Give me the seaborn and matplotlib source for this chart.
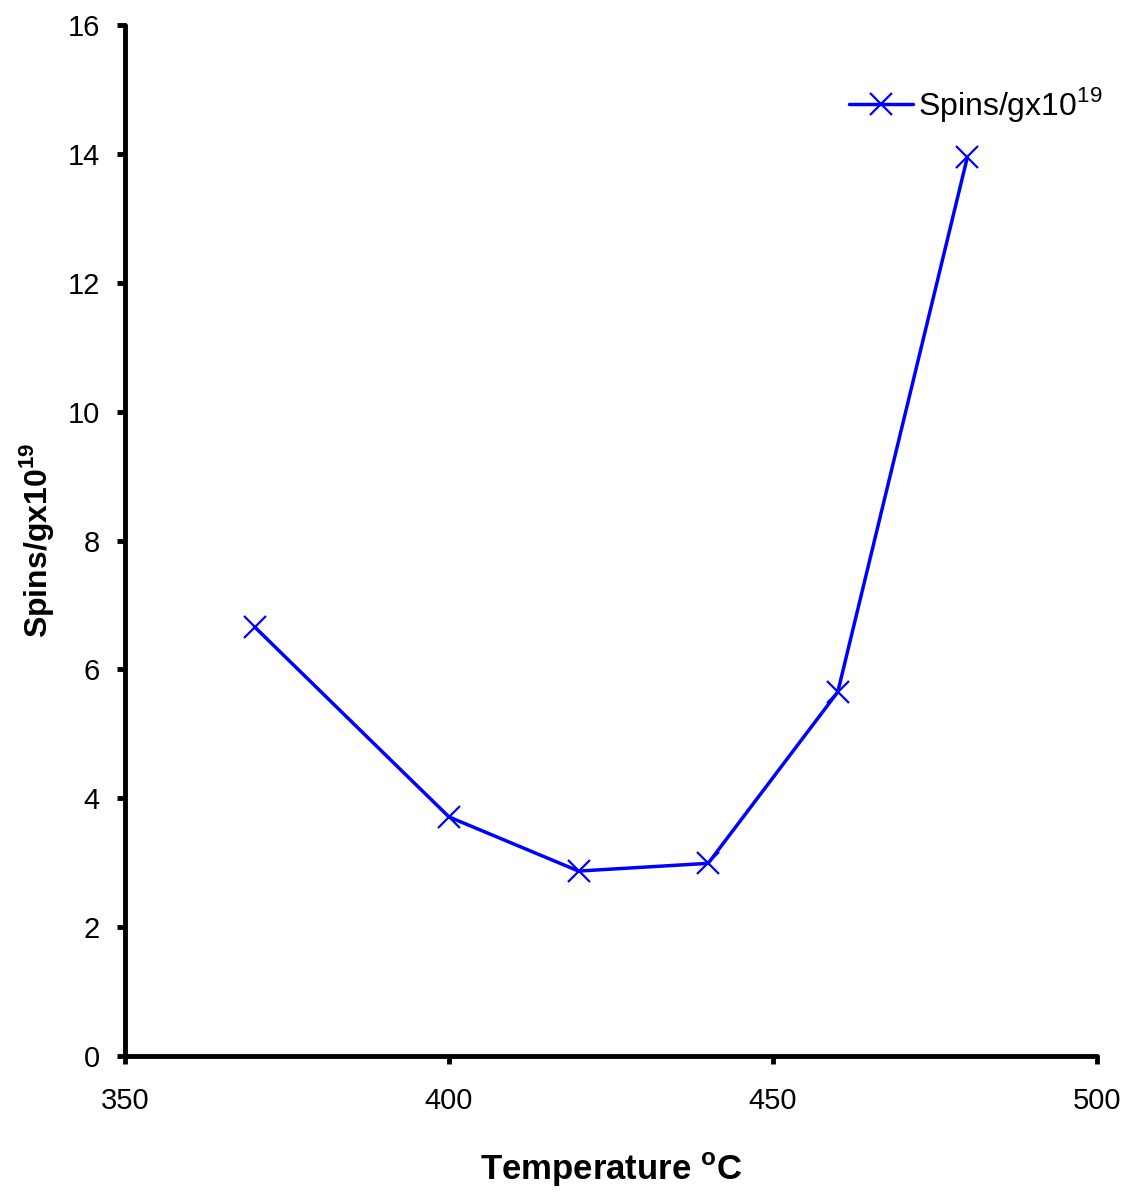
import matplotlib
matplotlib.use("Agg")
import matplotlib.pyplot as plt
import seaborn as sns
import pandas as pd

temperature = [370, 400, 420, 440, 460, 480]
spins = [6.66, 3.71, 2.87, 2.99, 5.65, 13.95]
series_label = r"Spins/gx10$^{\mathregular{19}}$"

sns.set_theme(style="ticks")
plt.rcParams['font.family'] = ['Liberation Sans', 'DejaVu Sans']
plt.rcParams['mathtext.fontset'] = 'custom'
plt.rcParams['mathtext.rm'] = 'Liberation Sans'
plt.rcParams['mathtext.bf'] = 'Liberation Sans:bold'
plt.rcParams['text.color'] = 'black'
plt.rcParams['axes.labelcolor'] = 'black'

df = pd.DataFrame({"Temperature": temperature, "Spins": spins})

fig = plt.figure(figsize=(11.33, 11.92), dpi=100)
ax = fig.add_axes([0.1103, 0.1141, 0.8579, 0.8649])

sns.lineplot(data=df, x="Temperature", y="Spins", ax=ax, color="#0000ff",
             linewidth=2.5, marker="x", markersize=16, markeredgewidth=1.6,
             markeredgecolor="#0000ff", label=series_label)

ax.set_xlim(350, 500)
ax.set_ylim(0, 16)
ax.set_xticks([350, 400, 450, 500])
ax.set_yticks(range(0, 17, 2))

for s in ["top", "right"]:
    ax.spines[s].set_visible(False)
for s in ["left", "bottom"]:
    ax.spines[s].set_linewidth(3.5)
    ax.spines[s].set_color("black")
    ax.spines[s].set_capstyle("round")

ax.tick_params(axis="both", direction="out", length=6, width=3.5, labelsize=21,
               colors="black")
ax.tick_params(axis="x", pad=16)
ax.tick_params(axis="y", pad=12)

ax.set_xlabel(r"Temperature $^{\mathbf{o}}$C", fontsize=25, fontweight="bold", labelpad=26)
ax.set_ylabel(r"Spins/gx10$^{\mathbf{19}}$", fontsize=23, fontweight="bold", labelpad=8)

leg = ax.legend(loc="upper right", bbox_to_anchor=(1.035, 0.97), frameon=False,
                fontsize=23, handlelength=2.0, handletextpad=0.15)
for t in leg.get_texts():
    t.set_color("black")

fig.savefig("out.png", dpi=100)
